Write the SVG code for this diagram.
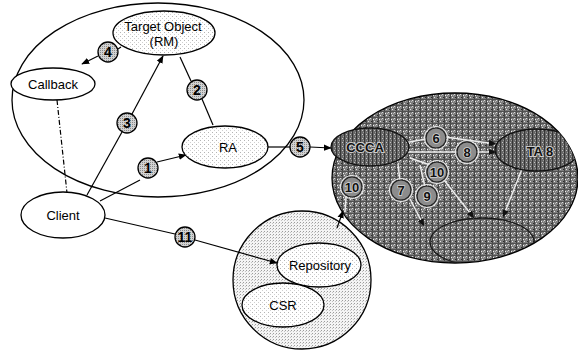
<svg xmlns="http://www.w3.org/2000/svg" width="578" height="353" viewBox="0 0 578 353">
  <defs>
    <!-- light stipple used for the shaded nodes -->
    <pattern id="stipple" width="4" height="4" patternUnits="userSpaceOnUse">
      <rect width="4" height="4" fill="#ffffff"/>
      <rect x="0" y="0" width="1" height="1" fill="#b4b4b4"/>
      <rect x="2" y="2" width="1" height="1" fill="#d0d0d0"/>
    </pattern>
    <pattern id="stippleMid" width="3" height="3" patternUnits="userSpaceOnUse">
      <rect width="3" height="3" fill="#f4f4f4"/>
      <rect x="0" y="0" width="1" height="1" fill="#9c9c9c"/>
      <rect x="2" y="1" width="1" height="1" fill="#c4c4c4"/>
    </pattern>
    <pattern id="badgeFill" width="2" height="2" patternUnits="userSpaceOnUse">
      <rect width="2" height="2" fill="#d2d2d2"/>
      <rect x="0" y="0" width="1" height="1" fill="#8a8a8a"/>
    </pattern>
    <!-- coarse halftone for the dark domain -->
    <pattern id="halftone" width="6" height="6" patternUnits="userSpaceOnUse">
      <rect width="6" height="6" fill="#7e7e7e"/>
      <rect x="0" y="0" width="1" height="6" fill="#444"/>
      <rect x="0" y="3" width="6" height="1" fill="#505050"/>
      <rect x="2" y="1" width="1" height="1" fill="#e6e6e6"/>
      <rect x="4" y="4" width="1" height="1" fill="#dcdcdc"/>
      <rect x="5" y="1" width="1" height="1" fill="#2a2a2a"/>
      <rect x="3" y="5" width="1" height="1" fill="#b4b4b4"/>
      <rect x="1" y="5" width="1" height="1" fill="#f0f0f0"/>
    </pattern>
    <pattern id="halftoneDark" width="4" height="4" patternUnits="userSpaceOnUse">
      <rect width="4" height="4" fill="#686868"/>
      <rect x="0" y="0" width="1" height="4" fill="#363636"/>
      <rect x="2" y="2" width="1" height="1" fill="#c4c4c4"/>
      <rect x="3" y="0" width="1" height="1" fill="#999"/>
    </pattern>
    <clipPath id="domainClip">
      <ellipse cx="455" cy="178" rx="123" ry="85"/>
    </clipPath>
    <marker id="arrow" viewBox="0 0 10 10" refX="9" refY="5" markerWidth="8" markerHeight="8" markerUnits="userSpaceOnUse" orient="auto">
      <path d="M0,1 L10,5 L0,9 z" fill="#000"/>
    </marker>
    <marker id="arrowDark" viewBox="0 0 10 10" refX="9" refY="5" markerWidth="8" markerHeight="8" markerUnits="userSpaceOnUse" orient="auto">
      <path d="M0,1 L10,5 L0,9 z" fill="#111"/>
    </marker>
  </defs>
  <style>
    .node { stroke: #000; stroke-width: 1.3; }
    .label { font-family: "Liberation Sans", Arial, sans-serif; font-size: 13px; fill: #000; text-anchor: middle; }
    .dlabel { font-family: "Liberation Sans", Arial, sans-serif; font-size: 13px; font-weight: bold; fill: #111; stroke: #cccccc; stroke-width: 2; paint-order: stroke; text-anchor: middle; }
    .badge circle { fill: url(#badgeFill); stroke: #000; stroke-width: 1.3; }
    .badge text { font-family: "Liberation Sans", Arial, sans-serif; font-size: 14px; font-weight: bold; fill: #000; text-anchor: middle; }
    .dbadge circle { fill: #8c8c8c; stroke: #222; stroke-width: 1.2; }
    .dbadge .ring { fill: none; stroke: #e6e6e6; stroke-width: 1.2; }
    .dbadge text { font-family: "Liberation Sans", Arial, sans-serif; font-size: 13px; font-weight: bold; fill: #111; stroke: #d4d4d4; stroke-width: 1.6; paint-order: stroke; text-anchor: middle; }
    .edge { fill: none; stroke: #000; stroke-width: 1.2; }
    .dedge { fill: none; stroke: #ececec; stroke-width: 1.4; }
  </style>

  <rect width="578" height="353" fill="#ffffff"/>

  <!-- local host boundary -->
  <g id="host">
    <ellipse cx="158" cy="100" rx="146" ry="97" fill="none" stroke="#000" stroke-width="1.3"/>
  </g>

  <!-- repository domain -->
  <g id="repository-domain">
    <circle cx="302" cy="280" r="69" fill="url(#stippleMid)" class="node"/>
  </g>

  <!-- remote domain -->
  <g id="remote-domain">
    <ellipse cx="455" cy="178" rx="123" ry="85" fill="url(#halftone)" class="node"/>
    <g clip-path="url(#domainClip)">
      <ellipse cx="482" cy="242" rx="52" ry="24" fill="none" stroke="#1a1a1a" stroke-width="1.3"/>
    </g>
  </g>

  <!-- connectors -->
  <g id="connectors">
    <!-- 1: Client -> RA -->
    <path class="edge" d="M100,201 L140,180"/>
    <path class="edge" d="M157,162 L186,155" marker-end="url(#arrow)"/>
    <!-- 2: Target Object - RA -->
    <path class="edge" d="M180,57 L191,81"/>
    <path class="edge" d="M202,99 L213,125"/>
    <!-- 3: Client -> Target Object -->
    <path class="edge" d="M87,195 L122,132"/>
    <path class="edge" d="M132,114 L163,56" marker-end="url(#arrow)"/>
    <!-- 4: Target Object -> Callback -->
    <path class="edge" d="M121,47 L118,49"/>
    <path class="edge" d="M98,56 L82,64" marker-end="url(#arrow)"/>
    <!-- Callback - Client -->
    <path class="edge" d="M57,100 L67,193" stroke-dasharray="5,2,1,2" stroke-width="0.9"/>
    <!-- 5: RA -> remote domain -->
    <path class="edge" d="M268,147 L290,147"/>
    <path class="edge" d="M310,147 L331,148" marker-end="url(#arrow)"/>
    <!-- 11: Client -> Repository -->
    <path class="edge" d="M105,218 L175,234"/>
    <path class="edge" d="M195,240 L277,263" marker-end="url(#arrow)"/>
    <!-- 10: repository domain -> remote domain -->
    <path class="edge" d="M337,228 L343,211" marker-end="url(#arrow)"/>
    <path class="dedge" d="M346,197 L345,212"/>
    <!-- interactions inside the remote domain -->
    <path class="dedge" d="M404,143 L426,139"/>
    <path class="dedge" d="M445,137 L496,144" marker-end="url(#arrowDark)"/>
    <path class="dedge" d="M404,152 L458,152"/>
    <path class="dedge" d="M476,152 L496,152" marker-end="url(#arrowDark)"/>
    <path class="dedge" d="M410,158 L430,165"/>
    <path class="dedge" d="M444,180 L474,218" marker-end="url(#arrowDark)"/>
    <path class="dedge" d="M398,164 L400,181"/>
    <path class="dedge" d="M410,199 L424,226" marker-end="url(#arrowDark)"/>
    <path class="dedge" d="M420,165 L425,187"/>
    <path class="dedge" d="M522,169 L503,217" marker-end="url(#arrowDark)"/>
  </g>

  <!-- nodes -->
  <g id="target-object">
    <ellipse cx="164" cy="33" rx="51" ry="22" fill="url(#stipple)" class="node"/>
    <text class="label" x="163" y="31">Target Object</text>
    <text class="label" x="164" y="46">(RM)</text>
  </g>
  <g id="callback">
    <ellipse cx="53" cy="84" rx="42" ry="16" fill="#ffffff" class="node"/>
    <text class="label" x="53" y="89">Callback</text>
  </g>
  <g id="ra">
    <ellipse cx="225" cy="147" rx="43" ry="21" fill="url(#stipple)" class="node"/>
    <text class="label" x="228" y="152">RA</text>
  </g>
  <g id="client">
    <ellipse cx="63" cy="215" rx="42" ry="23" fill="#ffffff" class="node"/>
    <text class="label" x="63" y="220">Client</text>
  </g>
  <g id="repository">
    <ellipse cx="319" cy="265" rx="42" ry="22" fill="url(#stipple)" class="node"/>
    <text class="label" x="320" y="270">Repository</text>
  </g>
  <g id="csr">
    <ellipse cx="283" cy="305" rx="41" ry="22" fill="url(#stipple)" class="node"/>
    <text class="label" x="283" y="310">CSR</text>
  </g>
  <g id="ccca">
    <ellipse cx="370" cy="147" rx="39" ry="19" fill="url(#halftoneDark)" stroke="#111" stroke-width="1.3"/>
    <text class="dlabel" x="365" y="152">CCCA</text>
  </g>
  <g id="ta">
    <g clip-path="url(#domainClip)">
      <ellipse cx="537" cy="150" rx="42" ry="21" fill="url(#halftoneDark)" stroke="#111" stroke-width="1.3"/>
    </g>
    <text class="dlabel" x="540" y="156">TA 8</text>
  </g>

  <!-- step badges -->
  <g id="step-1" class="badge"><circle cx="148" cy="168" r="10"/><text x="148" y="173">1</text></g>
  <g id="step-2" class="badge"><circle cx="197" cy="90" r="10"/><text x="197" y="95">2</text></g>
  <g id="step-3" class="badge"><circle cx="127" cy="123" r="10"/><text x="127" y="128">3</text></g>
  <g id="step-4" class="badge"><circle cx="108" cy="52" r="10"/><text x="108" y="57">4</text></g>
  <g id="step-5" class="badge"><circle cx="300" cy="147" r="10"/><text x="300" y="152">5</text></g>
  <g id="step-11" class="badge"><circle cx="185" cy="237" r="10"/><text x="185" y="242">11</text></g>

  <g id="step-6" class="dbadge"><circle cx="436" cy="138" r="10"/><circle class="ring" cx="436" cy="138" r="11.5"/><text x="436" y="143">6</text></g>
  <g id="step-8" class="dbadge"><circle cx="467" cy="152" r="10"/><circle class="ring" cx="467" cy="152" r="11.5"/><text x="467" y="157">8</text></g>
  <g id="step-10b" class="dbadge"><circle cx="437" cy="172" r="10"/><circle class="ring" cx="437" cy="172" r="11.5"/><text x="437" y="177">10</text></g>
  <g id="step-7" class="dbadge"><circle cx="401" cy="190" r="10"/><circle class="ring" cx="401" cy="190" r="11.5"/><text x="401" y="195">7</text></g>
  <g id="step-9" class="dbadge"><circle cx="427" cy="196" r="10"/><circle class="ring" cx="427" cy="196" r="11.5"/><text x="427" y="201">9</text></g>
  <g id="step-10" class="dbadge"><circle cx="352" cy="187" r="10"/><circle class="ring" cx="352" cy="187" r="11.5"/><text x="352" y="192">10</text></g>
</svg>
